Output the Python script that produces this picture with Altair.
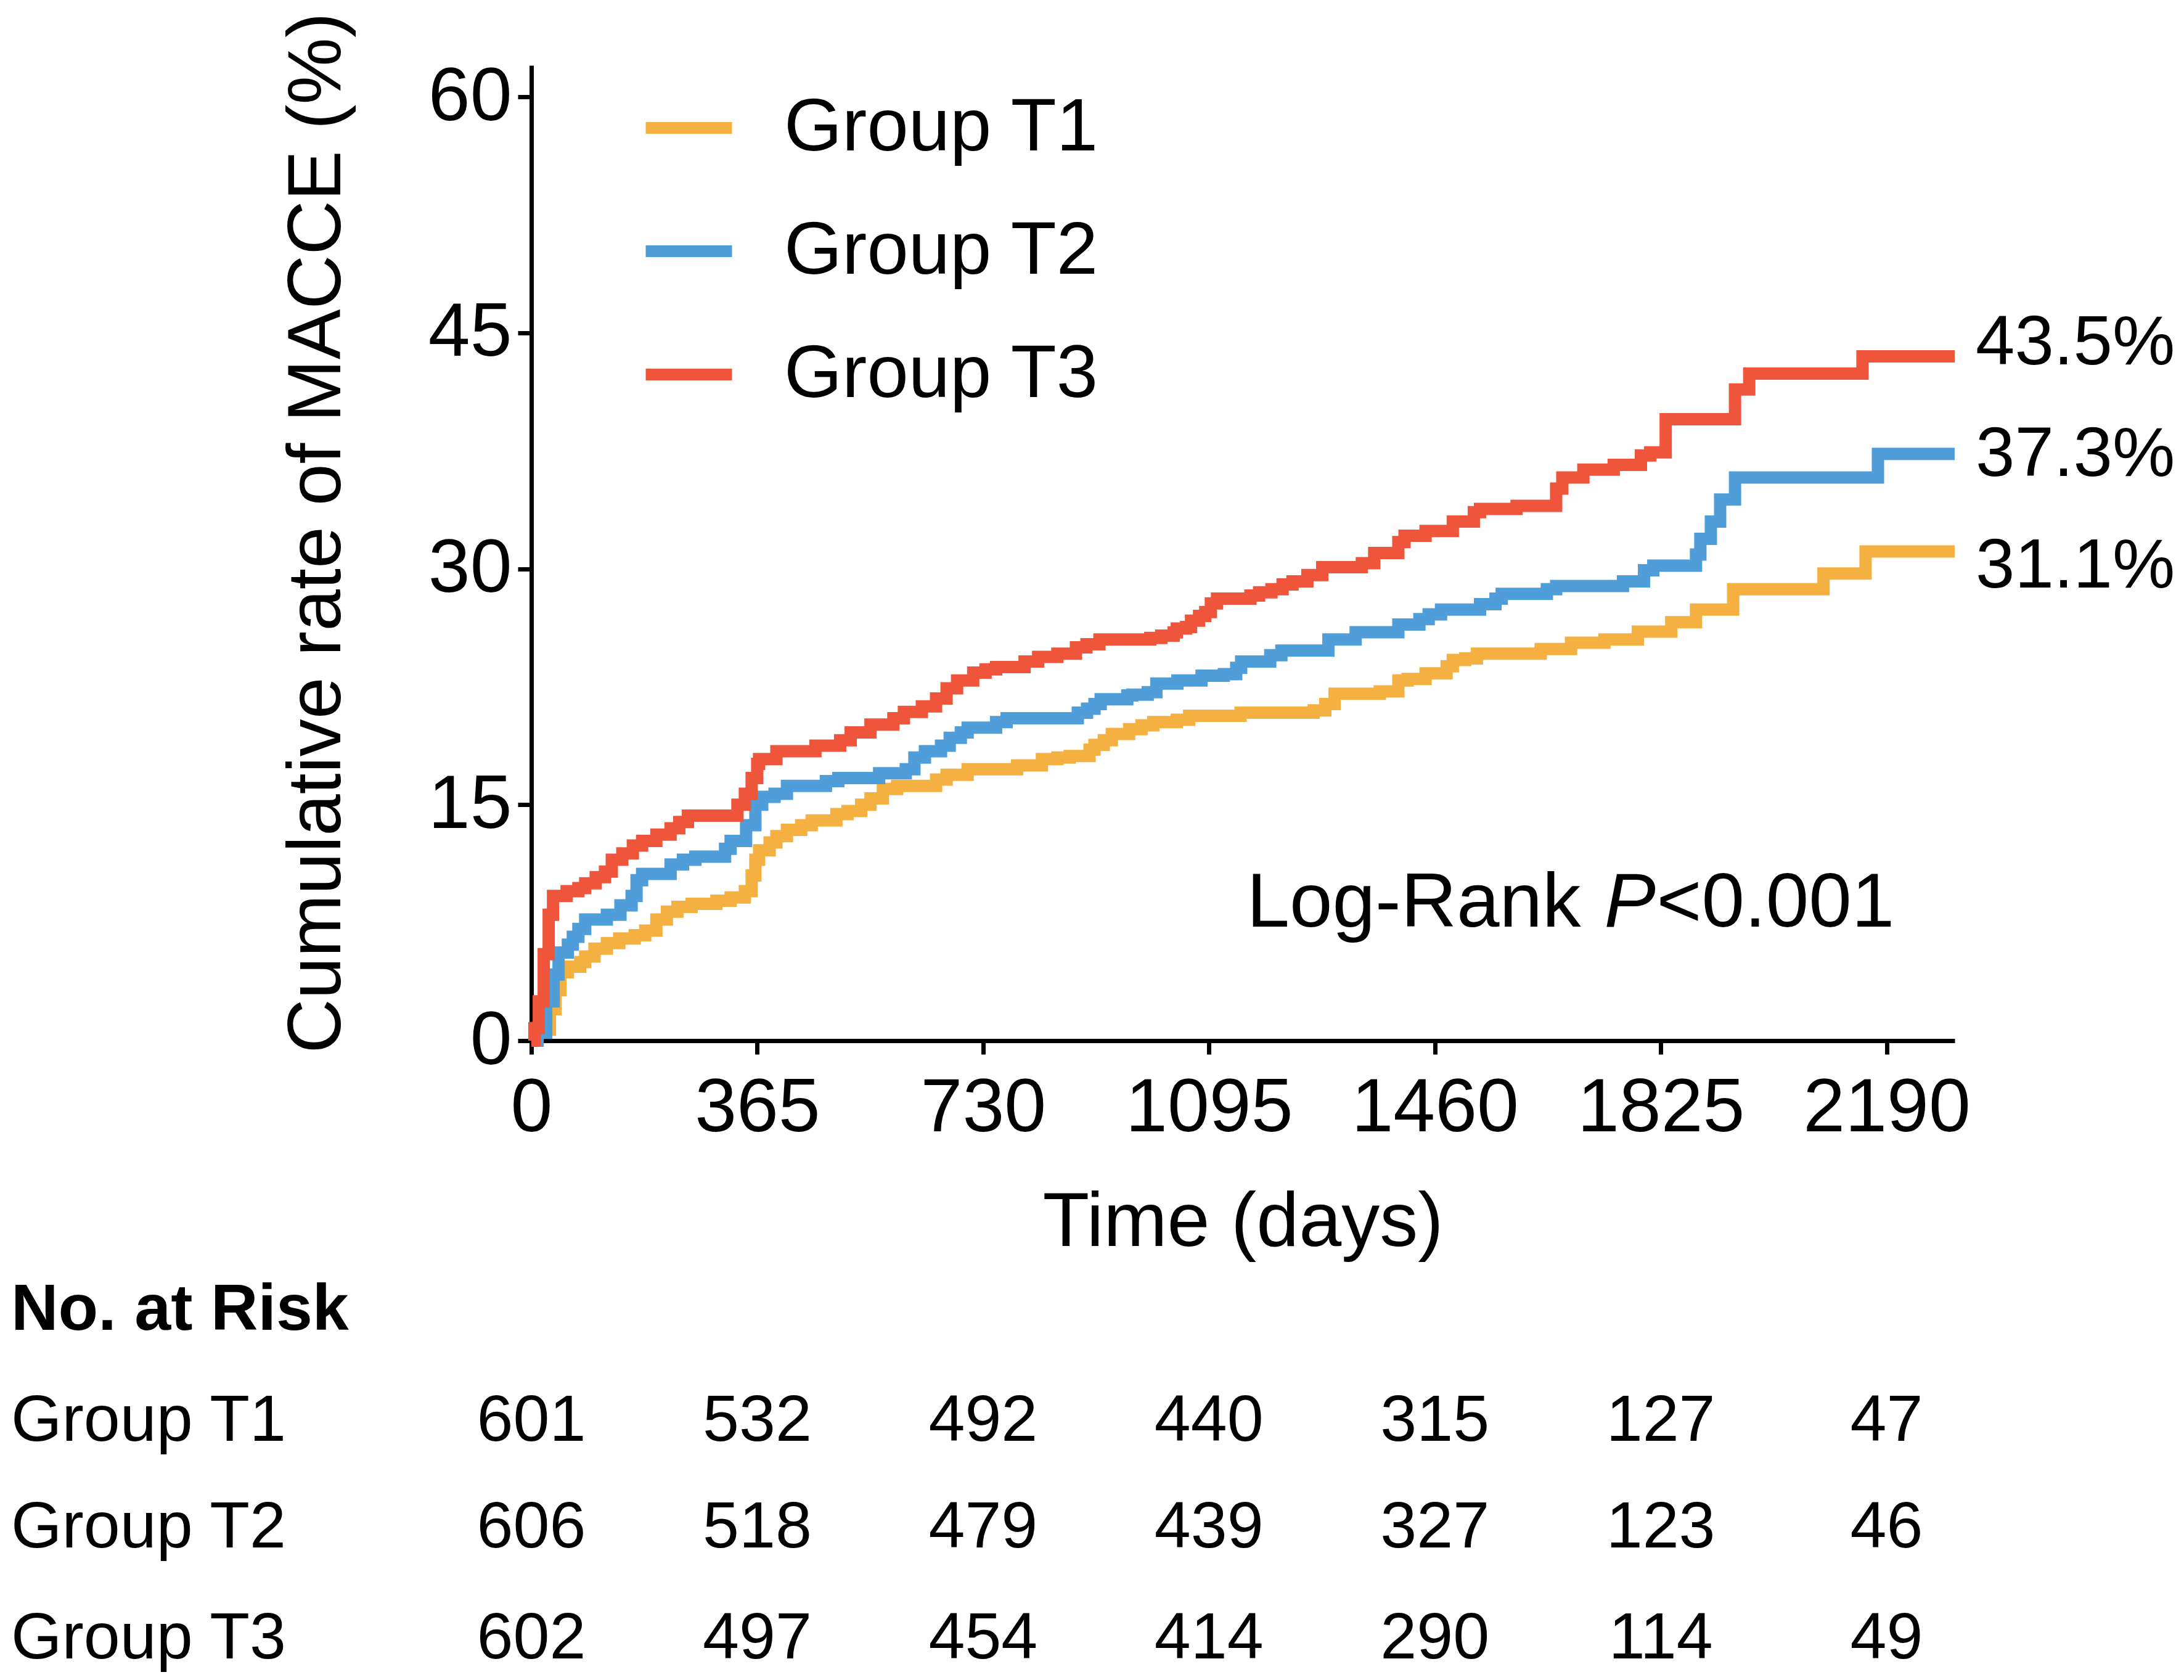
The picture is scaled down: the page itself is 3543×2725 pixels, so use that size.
import altair as alt
import pandas as pd

FONT = "Liberation Sans"

groups = ["Group T1", "Group T2", "Group T3"]
colors = ["#F5B042", "#4F9EDA", "#EE553A"]

# Cumulative MACCE curves (days, %)
t1_days = [0, 5, 30, 39, 47, 59, 79, 87, 102, 122, 142, 167, 184, 202, 219, 236, 259, 299, 322, 345,
           356, 362, 368, 385, 396, 413, 436, 453, 493, 511, 533, 548, 568, 591, 654, 671, 705, 785,
           825, 850, 870, 902, 910, 925, 938, 966, 986, 1005, 1043, 1063, 1146, 1264, 1283, 1298,
           1371, 1401, 1416, 1445, 1479, 1489, 1509, 1528, 1631, 1680, 1734, 1788, 1842, 1882, 1942,
           2088, 2156, 2300]
t1_pct = [0, 0.7, 2.0, 3.2, 4.35, 4.7, 5.0, 5.35, 5.85, 6.2, 6.5, 6.7, 7.0, 7.7, 8.2, 8.5, 8.7, 8.9, 9.1, 9.5,
          10.5, 11.5, 12.1, 12.6, 13.0, 13.4, 13.7, 14.0, 14.4, 14.6, 15.0, 15.4, 16.0, 16.2, 16.6, 16.9, 17.25, 17.5,
          17.9, 18.0, 18.1, 18.5, 18.8, 19.1, 19.5, 19.8, 20.05, 20.25, 20.4, 20.65, 20.85, 21.0, 21.4, 22.05,
          22.2, 22.9, 23.0, 23.35, 23.8, 24.2, 24.3, 24.6, 24.9, 25.3, 25.5, 26.0, 26.6, 27.4, 28.7,
          29.7, 31.1, 31.1]

t2_days = [0, 10, 24, 36, 44, 59, 67, 76, 87, 122, 144, 162, 170, 179, 225, 245, 265, 313, 322, 347,
           362, 373, 393, 413, 476, 496, 562, 605, 619, 636, 662, 676, 694, 705, 751, 768, 883, 898,
           910, 920, 963, 971, 996, 1010, 1044, 1083, 1119, 1139, 1147, 1194, 1212, 1288, 1332, 1401,
           1435, 1450, 1470, 1533, 1558, 1568, 1641, 1656, 1764, 1798, 1813, 1882, 1889, 1906, 1921,
           1945, 2176, 2300]
t2_pct = [0, 0.5, 2.5, 4.2, 5.6, 6.1, 6.6, 7.1, 7.7, 8.0, 8.6, 9.2, 10.2, 10.6, 11.2, 11.5, 11.7, 12.2, 12.7, 13.7,
          15.0, 15.5, 15.7, 16.2, 16.5, 16.7, 17.0, 17.25, 18.0, 18.4, 18.75, 19.25, 19.6, 19.9, 20.25, 20.5, 20.85, 21.1,
          21.4, 21.7, 21.95, 22.0, 22.15, 22.7, 22.9, 23.2, 23.3, 23.7, 24.1, 24.5, 24.8, 25.5, 25.96, 26.45,
          26.8, 27.1, 27.4, 27.75, 28.1, 28.4, 28.7, 28.9, 29.2, 29.9, 30.2, 30.9, 31.9, 33.0, 34.4,
          35.8, 37.3, 37.3]

t3_days = [0, 5, 12, 20, 28, 35, 57, 76, 87, 104, 119, 130, 147, 164, 179, 202, 225, 239, 253, 333,
           345, 356, 365, 368, 396, 459, 499, 516, 548, 585, 602, 631, 654, 671, 688, 714, 734, 751,
           797, 819, 850, 880, 897, 918, 1000, 1018, 1038, 1043, 1058, 1066, 1079, 1089, 1098, 1108,
           1162, 1176, 1196, 1214, 1230, 1254, 1278, 1342, 1362, 1401, 1411, 1445, 1489, 1523, 1533,
           1592, 1656, 1666, 1700, 1749, 1793, 1808, 1833, 1945, 1968, 2151, 2300]
t3_pct = [0, 0.8, 2.5, 5.5, 8.0, 9.2, 9.5, 9.7, 10.0, 10.4, 10.75, 11.5, 11.9, 12.4, 12.7, 13.1, 13.5, 13.9, 14.3, 15.0,
          15.7, 16.7, 17.6, 17.9, 18.4, 18.75, 19.1, 19.6, 20.1, 20.5, 20.9, 21.25, 21.75, 22.4, 22.9, 23.4, 23.6, 23.75,
          24.1, 24.4, 24.6, 25.0, 25.2, 25.5, 25.6, 25.75, 25.95, 26.2, 26.3, 26.7, 27.0, 27.25, 27.8, 28.1,
          28.3, 28.5, 28.7, 29.0, 29.2, 29.6, 30.1, 30.35, 31.0, 31.7, 32.1, 32.4, 33.0, 33.6, 33.8,
          34.0, 35.1, 35.8, 36.3, 36.6, 37.2, 37.4, 39.5, 41.4, 42.4, 43.5, 43.5]

final_values = [31.1, 37.3, 43.5]
final_labels = ["31.1%", "37.3%", "43.5%"]

x_ticks = [0, 365, 730, 1095, 1460, 1825, 2190]
y_ticks = [0, 15, 30, 45, 60]

risk_times = [0, 365, 730, 1095, 1460, 1825, 2190]
risk_t1 = [601, 532, 492, 440, 315, 127, 47]
risk_t2 = [606, 518, 479, 439, 327, 123, 46]
risk_t3 = [602, 497, 454, 414, 290, 114, 49]

# ---------- tables built from the arrays ----------
curves = pd.concat([
    pd.DataFrame({"day": d, "pct": p, "group": g})
    for d, p, g in [(t1_days, t1_pct, groups[0]), (t2_days, t2_pct, groups[1]), (t3_days, t3_pct, groups[2])]
])
finals = pd.DataFrame({"group": groups, "value": final_values, "label": final_labels})
risk = pd.concat([
    pd.DataFrame({"time": risk_times, "n": r, "group": g})
    for r, g in [(risk_t1, groups[0]), (risk_t2, groups[1]), (risk_t3, groups[2])]
])

x_scale = alt.Scale(domain=[0, 2300], nice=False, zero=False)
y_scale = alt.Scale(domain=[0, 62], nice=False)

axis_common = dict(
    grid=False, domainColor="black", tickColor="black", labelColor="black", titleColor="black",
    domainWidth=7, tickWidth=7, tickSize=22, labelFont=FONT, titleFont=FONT, format="d",
    labelFontSize=122, titleFontWeight="normal", labelFlush=False, labelLimit=2000, titleLimit=4000,
)

lines = alt.Chart(curves).mark_line(
    interpolate="step-after", strokeWidth=20, strokeCap="butt", strokeJoin="miter"
).encode(
    x=alt.X("day:Q", scale=x_scale,
            axis=alt.Axis(values=x_ticks, title="Time (days)", labelPadding=28,
                          titleFontSize=124, titleX=1154, titleY=332, titleBaseline="alphabetic",
                          titleAlign="center", **axis_common)),
    y=alt.Y("pct:Q", scale=y_scale,
            axis=alt.Axis(values=y_ticks, title="Cumulative rate of MACCE (%)", labelPadding=10,
                          titleFontSize=122, titleAngle=270, titleX=-311, titleY=758,
                          titleBaseline="alphabetic", titleAlign="center", **axis_common)),
    color=alt.Color("group:N", scale=alt.Scale(domain=groups, range=colors),
                    legend=alt.Legend(title=None, orient="none", legendX=176, legendY=22,
                                      symbolType="stroke", symbolSize=19600, symbolStrokeWidth=19,
                                      labelFont=FONT, labelFontSize=121, labelColor="black",
                                      labelLimit=2000, labelOffset=75, rowPadding=60, padding=0,
                                      direction="vertical")),
)

layers = [lines]

# end-of-curve percentage labels
label_dy = {groups[0]: 25, groups[1]: 2, groups[2]: -21}
for g in groups:
    layers.append(
        alt.Chart(finals).transform_filter(alt.datum.group == g).mark_text(
            align="left", baseline="middle", font=FONT, fontSize=114, color="black", dx=34, dy=label_dy[g]
        ).encode(x=alt.datum(2300), y=alt.Y("value:Q", scale=y_scale), text="label:N")
    )

# Log-rank annotation
lr_base = dict(baseline="alphabetic", align="left", font=FONT, fontSize=125, color="black")
layers.append(alt.Chart().mark_text(text="Log-Rank", **lr_base).encode(x=alt.datum(1156), y=alt.datum(7.25)))
layers.append(alt.Chart().mark_text(text="P", fontStyle="italic", dx=580, **lr_base).encode(x=alt.datum(1156), y=alt.datum(7.25)))
layers.append(alt.Chart().mark_text(text="<0.001", dx=665, **lr_base).encode(x=alt.datum(1156), y=alt.datum(7.25)))

# Number at risk table
layers.append(alt.Chart().mark_text(text="No. at Risk", align="left", baseline="alphabetic", font=FONT,
                                    fontSize=106, fontWeight="bold", color="black")
              .encode(x=alt.value(-844), y=alt.value(2051)))
row_y = {groups[0]: 2231, groups[1]: 2404, groups[2]: 2584}
for g in groups:
    layers.append(alt.Chart().mark_text(text=g, align="left", baseline="alphabetic", font=FONT,
                                        fontSize=106, color="black")
                  .encode(x=alt.value(-844), y=alt.value(row_y[g])))
    layers.append(alt.Chart(risk).transform_filter(alt.datum.group == g).mark_text(
        align="center", baseline="alphabetic", font=FONT, fontSize=106, color="black"
    ).encode(x=alt.X("time:Q", scale=x_scale), y=alt.value(row_y[g]), text="n:Q"))

chart = alt.layer(*layers).properties(
    width=2309, height=1582,
    autosize=alt.AutoSizeParams(type="none"),
    padding={"left": 854, "top": 98, "right": 364, "bottom": 1029},
    background="white",
).configure(font=FONT).configure_view(stroke=None)

chart.save("out.html", embed_options={"renderer": "svg", "actions": False})
